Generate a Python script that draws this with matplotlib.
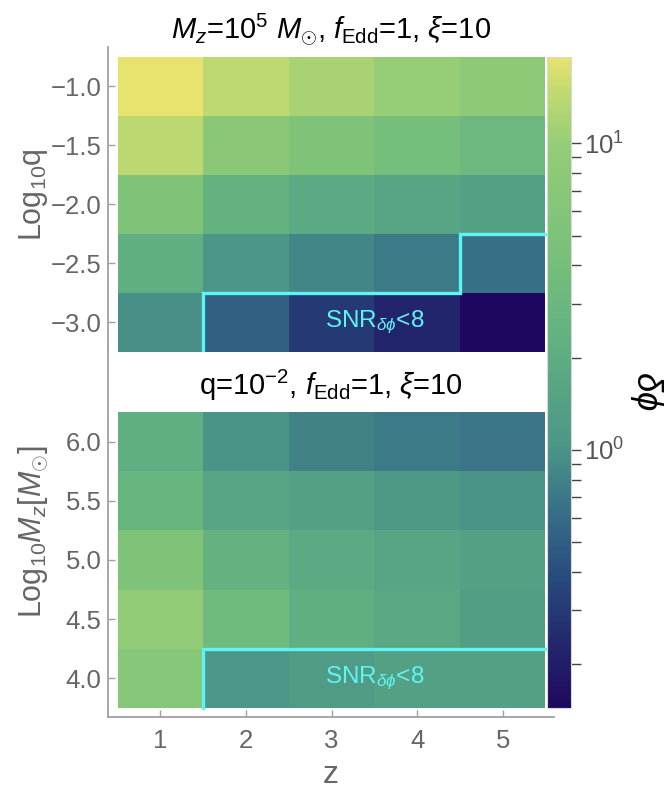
import numpy as np
import matplotlib
matplotlib.use('Agg')
from matplotlib import pyplot as plt
from matplotlib.colors import LinearSegmentedColormap, LogNorm
from matplotlib.ticker import LogLocator, FixedLocator

plt.rcParams['font.family'] = ['Liberation Sans', 'DejaVu Sans']
plt.rcParams['mathtext.fontset'] = 'custom'
plt.rcParams['mathtext.rm'] = 'Liberation Sans'
plt.rcParams['mathtext.it'] = 'Liberation Sans:italic'
plt.rcParams['mathtext.bf'] = 'Liberation Sans:bold'

# grid values
z_vals = [1, 2, 3, 4, 5]
logq_vals = [-3.0, -2.5, -2.0, -1.5, -1.0]
logm_vals = [4.0, 4.5, 5.0, 5.5, 6.0]

# delta phi, rows follow logq_vals (bottom to top), columns follow z_vals
dphi_q = [
    [0.95, 0.51, 0.30, 0.22, 0.145],
    [2.1, 1.02, 0.84, 0.72, 0.63],
    [5.4, 2.45, 1.83, 1.58, 1.37],
    [13.9, 7.2, 5.4, 4.0, 3.1],
    [19.0, 14.3, 11.7, 10.1, 7.9],
]
# rows follow logm_vals
dphi_m = [
    [6.2, 1.05, 1.2, 1.37, 1.37],
    [9.2, 3.4, 2.1, 1.75, 1.3],
    [5.4, 2.45, 1.83, 1.58, 1.37],
    [2.7, 1.58, 1.37, 1.1, 1.0],
    [2.1, 1.0, 0.80, 0.72, 0.69],
]

# SNR < 8 region boundaries
snr_top_x = [1.5, 1.5, 4.5, 4.5, 5.5]
snr_top_y = [-3.25, -2.75, -2.75, -2.25, -2.25]
snr_bot_x = [1.5, 1.5, 5.5]
snr_bot_y = [3.75, 4.25, 4.25]

cbar_min, cbar_max = 0.1445, 19.1

# BlueGreenYellow-like gradient
cmap_pos = [0.0, 0.1, 0.2, 0.3, 0.4, 0.55, 0.7, 0.87, 0.95, 1.0]
cmap_col = ['#1e085f', '#23286e', '#284b7d', '#376e87', '#4b9687',
            '#5faf82', '#78c07a', '#96cd76', '#c3da70', '#e8e26e']
cmap = LinearSegmentedColormap.from_list('bgy', list(zip(cmap_pos, cmap_col)))
norm = LogNorm(vmin=cbar_min, vmax=cbar_max)

W, H = 666, 789
def box(x0, y0, x1, y1):
    # pixel box (top-left origin) -> figure fraction rect
    return [x0 / W, 1 - y1 / H, (x1 - x0) / W, (y1 - y0) / H]

def edges(v, step):
    v = np.asarray(v, dtype=float)
    return np.append(v - step / 2, v[-1] + step / 2)

gray = '#666666'
axcol = '#a0a0a0'
cyan = '#5ff4f4'

fig = plt.figure(figsize=(6.66, 7.89), dpi=100)

ax1 = fig.add_axes(box(108.3, 47, 554, 352))
ax2 = fig.add_axes(box(108.3, 352, 554, 716.7))

mesh = ax1.pcolormesh(edges(z_vals, 1), edges(logq_vals, 0.5), np.array(dphi_q),
                      cmap=cmap, norm=norm)
ax2.pcolormesh(edges(z_vals, 1), edges(logm_vals, 0.5), np.array(dphi_m),
               cmap=cmap, norm=norm)

ax1.set_xlim(0.39, 5.6)
ax1.set_ylim(-3.25, -0.668)
ax2.set_xlim(0.39, 5.6)
ax2.set_ylim(3.674, 6.76)

for ax in (ax1, ax2):
    for s in ('top', 'right'):
        ax.spines[s].set_visible(False)
    ax.spines['left'].set_color(axcol)
    ax.spines['left'].set_linewidth(1.3)
    ax.tick_params(direction='in', length=5, width=1, colors=axcol,
                   labelcolor=gray, labelsize=18.5, pad=5)
ax1.spines['bottom'].set_visible(False)
ax1.set_xticks([])
ax2.spines['bottom'].set_color(axcol)
ax2.spines['bottom'].set_linewidth(1.3)
ax1.set_yticks(logq_vals[::-1])
ax1.yaxis.set_major_formatter(plt.FuncFormatter(lambda v, p: ('%.1f' % v).replace('-', '\u2212')))
ax2.set_yticks(logm_vals)
ax2.yaxis.set_major_formatter(plt.FuncFormatter(lambda v, p: '%.1f' % v))
ax2.set_xticks(z_vals)
ax2.tick_params(axis='x', pad=9)

ax1.plot(snr_top_x, snr_top_y, color=cyan, lw=2.4, solid_joinstyle='miter', clip_on=False, zorder=5)
ax2.plot(snr_bot_x, snr_bot_y, color=cyan, lw=2.4, solid_joinstyle='miter', clip_on=False, zorder=5)
ax1.text(3.5, -3.0, r'SNR$_{\delta\phi}$<8', color=cyan, fontsize=17.5, ha='center', va='center')
ax2.text(3.5, 4.0, r'SNR$_{\delta\phi}$<8', color=cyan, fontsize=17.5, ha='center', va='center')

fig.text(331 / W, 1 - 30 / H, r'$M_z$=10$^5$ $M_{\odot}$, $f_{\rm Edd}$=1, $\xi$=10',
         fontsize=21, ha='center', va='center')
fig.text(331 / W, 1 - 385 / H, r'q=10$^{-2}$, $f_{\rm Edd}$=1, $\xi$=10',
         fontsize=21, ha='center', va='center')

fig.text(33 / W, 1 - 195 / H, r'Log$_{10}$q', rotation=90, fontsize=22,
         color=gray, ha='center', va='center')
fig.text(33 / W, 1 - 532 / H, r'Log$_{10}$$M_z$[$M_{\odot}$]', rotation=90, fontsize=22,
         color=gray, ha='center', va='center')
fig.text(331 / W, 1 - 775 / H, 'z', fontsize=23, color=gray, ha='center', va='center')

cax = fig.add_axes(box(547, 57, 571, 707.7))
cb = fig.colorbar(mesh, cax=cax)
cb.outline.set_edgecolor('#d8d8d8')
cb.outline.set_linewidth(0.8)
cax.yaxis.set_major_locator(FixedLocator([1, 10]))
cax.yaxis.set_minor_locator(LogLocator(subs=np.arange(2, 10)))
cax.tick_params(which='both', direction='out', length=7, width=1, colors='#444444',
                labelcolor='#555555', labelsize=18.5, pad=2)
fig.text(647 / W, 1 - 391 / H, r'$\delta\phi$', rotation=270, fontsize=25,
         ha='center', va='center')

fig.savefig('out.png', dpi=100)
